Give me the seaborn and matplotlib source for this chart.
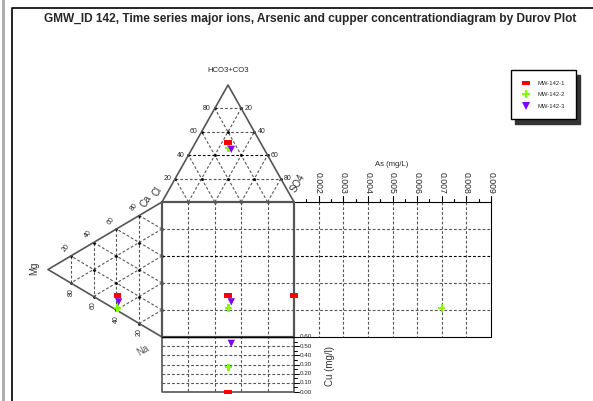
import numpy as np
import pandas as pd
import matplotlib.pyplot as plt
import seaborn as sns

# sample data
samples = ["MW-142-1", "MW-142-2", "MW-142-3"]
hco3 = [51, 46, 45]      # % HCO3+CO3
cl = [24.5, 26.5, 25]    # % Cl
so4 = [24.5, 27.5, 30]   # % SO4
mg = [39, 39, 38]        # % Mg
ca = [11, 2, 7]          # % Ca
na = [50, 59, 55]        # % Na
arsenic = [0.001, 0.007, np.nan]   # mg/L
copper = [0.0, 0.27, 0.53]         # mg/l

pct_ticks = [20, 40, 60, 80]
as_ticks = [0.002, 0.003, 0.004, 0.005, 0.006, 0.007, 0.008, 0.009]
cu_ticks = [0.0, 0.1, 0.2, 0.3, 0.4, 0.5, 0.6]
colors = {"MW-142-1": "#ff0000", "MW-142-2": "#80ff00", "MW-142-3": "#8000ff"}
rect = [(-1.5, -1), (1.5, -1), (1.5, 1), (-1.5, 1), (-1.5, -1)]
markers = {"MW-142-1": rect, "MW-142-2": "P", "MW-142-3": "v"}

# layout of the diagram in pixel units
X0, X1, Y0, Y1 = 162, 294, 202, 337
XM = (X0 + X1) / 2
YTOP = 85          # HCO3 apex
XMG = 48           # Mg apex
YM = (Y0 + Y1) / 2
AS0, AS1, XR = 0.001, 0.009, 491
CU_TOP, CU_BOT = 337, 392


def anion_xy(h, c, s):
    return X0 * c + X1 * s + XM * h, Y0 * (c + s) + YTOP * h


def cation_xy(m, c, n):
    return XMG * m + X0 * (c + n), YM * m + Y0 * c + Y1 * n


def as_x(v):
    return X1 + (v - AS0) / (AS1 - AS0) * (XR - X1)


def cu_y(v):
    return CU_BOT - v / 0.6 * (CU_BOT - CU_TOP)


sns.set_style("white")
plt.rcParams["font.family"] = ["Liberation Sans", "DejaVu Sans"]

fig = plt.figure(figsize=(5.93, 4.01), dpi=100)
ax = fig.add_axes([0, 0, 1, 1])
ax.set_xlim(0, 593)
ax.set_ylim(401, 0)
ax.axis("off")

dash = dict(color="#555555", lw=0.8, ls=(0, (2.5, 1.8)))
edge = dict(color="#555555", lw=1.2)

# window border
ax.plot([3, 3], [0, 401], color="#a8a8a8", lw=2)
ax.plot([12, 12, 593], [401, 8, 8], color="black", lw=1.2)

ax.text(44, 19, "GMW_ID 142, Time series major ions, Arsenic and cupper concentrationdiagram by Durov Plot",
        fontsize=8.6, fontweight="bold", va="center", ha="left")

# anion triangle
for k in pct_ticks:
    f = k / 100
    st = dict(dash)
    if k == 40:
        st["color"] = "black"
    p, q = anion_xy(f, 1 - f, 0), anion_xy(f, 0, 1 - f)
    ax.plot([p[0], q[0]], [p[1], q[1]], **st)
    p, q = anion_xy(0, 1 - f, f), anion_xy(1 - f, 0, f)
    ax.plot([p[0], q[0]], [p[1], q[1]], **dash)
    p, q = anion_xy(0, f, 1 - f), anion_xy(1 - f, f, 0)
    ax.plot([p[0], q[0]], [p[1], q[1]], **dash)
    lx, ly = anion_xy(f, 1 - f, 0)
    ax.text(lx - 8, ly, str(k), fontsize=5, ha="center", va="center")
    rx, ry = anion_xy(f, 0, 1 - f)
    ax.text(rx + 7, ry, str(100 - k), fontsize=5, ha="center", va="center")
grid = [(i, j, 5 - i - j) for i in range(6) for j in range(6) if i + j <= 5]
pts = [anion_xy(a / 5, b / 5, c / 5) for a, b, c in grid if max(a, b, c) < 5]
ax.plot([p[0] for p in pts], [p[1] for p in pts], "k.", ms=2)
tri = [anion_xy(0, 1, 0), anion_xy(1, 0, 0), anion_xy(0, 0, 1)]
ax.plot([p[0] for p in tri], [p[1] for p in tri], **edge)
ax.text(XM, 71, "HCO3+CO3", fontsize=5.5, ha="center", va="center")
ax.text(157, 192, "Cl", fontsize=7, rotation=60, ha="center", va="center", color="#333333")
ax.text(298, 183, "SO4", fontsize=7, rotation=60, ha="center", va="center", color="#333333")

# cation triangle
for k in pct_ticks:
    f = k / 100
    p, q = cation_xy(f, 1 - f, 0), cation_xy(f, 0, 1 - f)
    ax.plot([p[0], q[0]], [p[1], q[1]], **dash)
    p, q = cation_xy(0, f, 1 - f), cation_xy(1 - f, f, 0)
    ax.plot([p[0], q[0]], [p[1], q[1]], **dash)
    p, q = cation_xy(0, 1 - f, f), cation_xy(1 - f, 0, f)
    ax.plot([p[0], q[0]], [p[1], q[1]], **dash)
    ux, uy = cation_xy(f, 1 - f, 0)
    ax.text(ux - 5, uy - 8, str(100 - k), fontsize=5, rotation=50, ha="center", va="center")
    bx, by = cation_xy(f, 0, 1 - f)
    ax.text(bx, by + 9, str(k), fontsize=5, rotation=90, ha="center", va="center")
pts = [cation_xy(a / 5, b / 5, c / 5) for a, b, c in grid if max(a, b, c) < 5]
ax.plot([p[0] for p in pts], [p[1] for p in pts], "k.", ms=2)
tri = [cation_xy(0, 1, 0), cation_xy(1, 0, 0), cation_xy(0, 0, 1)]
ax.plot([p[0] for p in tri], [p[1] for p in tri], **edge)
ax.text(34, 268, "Mg", fontsize=7, rotation=90, ha="center", va="center", color="#333333")
ax.text(146, 201, "Ca", fontsize=7, rotation=60, ha="center", va="center", color="#333333")
ax.text(143, 350, "Na", fontsize=7, rotation=30, ha="center", va="center", color="#555555")

# central square and arsenic panel
for k in pct_ticks:
    f = k / 100
    x = X0 + f * (X1 - X0)
    ax.plot([x, x], [Y0, CU_BOT], **dash)
    y = Y0 + f * (Y1 - Y0)
    st = dict(dash)
    if k == 40:
        st["color"] = "black"
    ax.plot([X0, XR], [y, y], **st)
for v in as_ticks[:-1]:
    ax.plot([as_x(v), as_x(v)], [Y0, Y1], **dash)
ax.plot([X1, XR, XR, X1], [Y0, Y0, Y1, Y1], color="black", lw=0.8)
ax.plot([X0, X1, X1, X0, X0], [Y0, Y0, Y1, Y1, Y0], color="#555555", lw=1.6)
for v in as_ticks:
    ax.plot([as_x(v), as_x(v)], [Y0, Y0 - 6], color="black", lw=0.8)
    ax.plot([as_x(v - 0.0005)] * 2, [Y0, Y0 - 3], color="black", lw=0.8)
    ax.text(as_x(v), Y0 - 8, f"{v:.3f}", fontsize=6.3, rotation=-90, ha="center", va="bottom")
ax.text(392, 164, "As (mg/L)", fontsize=5.5, ha="center", va="center")

# copper panel
for v in cu_ticks[1:-1]:
    ax.plot([X0, X1], [cu_y(v), cu_y(v)], **dash)
ax.plot([X0, X0, X1, X1], [CU_TOP, CU_BOT, CU_BOT, CU_TOP], color="#555555", lw=1.2)
ax.plot([X0, X1], [CU_TOP, CU_TOP], color="black", lw=1.0)
for v in cu_ticks:
    ax.plot([X1, X1 + 5], [cu_y(v), cu_y(v)], color="black", lw=0.7)
    if v < 0.6:
        ax.plot([X1, X1 + 3], [cu_y(v + 0.05)] * 2, color="black", lw=0.7)
    ax.text(X1 + 6, cu_y(v), f"{v:.2f}", fontsize=4.5, ha="left", va="center")
ax.text(330, 366, "Cu (mg/l)", fontsize=7, rotation=90, ha="center", va="center", color="#333333")

# sample points projected into every panel
rows = []
for i, s in enumerate(samples):
    ax_x, ax_y = anion_xy(hco3[i] / 100, cl[i] / 100, so4[i] / 100)
    cx, cy = cation_xy(mg[i] / 100, ca[i] / 100, na[i] / 100)
    rows.append((s, ax_x, ax_y))
    rows.append((s, cx, cy))
    rows.append((s, ax_x, cy))
    if not np.isnan(arsenic[i]):
        rows.append((s, as_x(arsenic[i]), cy))
    rows.append((s, ax_x, cu_y(copper[i])))
df = pd.DataFrame(rows, columns=["sample", "px", "py"])

sns.scatterplot(data=df, x="px", y="py", hue="sample", style="sample",
                palette=colors, markers=markers, s=28, linewidth=0, ax=ax, zorder=5)
ax.set_xlim(0, 593)
ax.set_ylim(401, 0)
ax.axis("off")
handles, labels = ax.get_legend_handles_labels()
ax.legend(handles, labels, loc="upper left", bbox_to_anchor=(511 / 593, 1 - 70 / 401),
          bbox_transform=fig.transFigure, fontsize=4.2, frameon=True, fancybox=False,
          edgecolor="black", framealpha=1, borderpad=1.8, labelspacing=1.1,
          handletextpad=1.2, handlelength=1.6, markerscale=1.0, borderaxespad=0,
          shadow={"ox": 3, "oy": -3.5, "color": "#333333", "alpha": 1})

fig.savefig("out.png", dpi=100)
